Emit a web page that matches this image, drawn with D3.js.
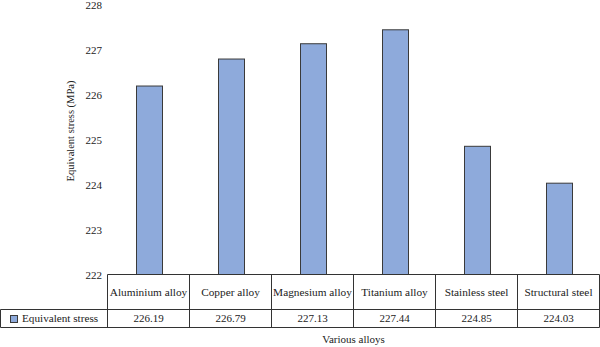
<!DOCTYPE html>
<html><head><meta charset="utf-8">
<script src="https://cdn.jsdelivr.net/npm/d3@7"></script>
<style>body{margin:0;background:#fff}svg{display:block}text{font-family:"Liberation Serif","Times New Roman",serif;fill:#222}</style>
</head><body><svg id="c" width="600" height="347"></svg>
<script>
const categories = ["Aluminium alloy","Copper alloy","Magnesium alloy","Titanium alloy","Stainless steel","Structural steel"];
const values = [226.19,226.79,227.13,227.44,224.85,224.03];
const valueLabels = ["226.19","226.79","227.13","227.44","224.85","224.03"];
const yTicks = [222,223,224,225,226,227,228];
const seriesName = "Equivalent stress";

(function(){
const svg = d3.select("#c");
const pL = 107.5, pR = 599.5, pT = 4.6, pB = 274.5;
const row1 = 309.5, row2 = 327.5;
const x = d3.scaleBand().domain(categories).range([pL, pR]).paddingInner(0).paddingOuter(0);
const y = d3.scaleLinear().domain([222,228]).range([pB, pT]);

svg.append("g").selectAll("text").data(yTicks).join("text")
  .attr("x", 102).attr("y", d => y(d) + 0.5).attr("dy","0.35em")
  .attr("text-anchor","end").attr("font-size",11).text(d => d);

svg.append("text").attr("transform",`translate(74,131) rotate(-90)`)
  .attr("text-anchor","middle").attr("font-size",10.5).text("Equivalent stress (MPa)");

const bw = 26;
svg.append("g").selectAll("rect").data(values).join("rect")
  .attr("x", (d,i) => Math.round(x(categories[i]) + x.bandwidth()/2 - bw/2) + 0.5)
  .attr("y", d => y(d))
  .attr("width", bw).attr("height", d => pB - y(d))
  .attr("fill","#8eaadb").attr("stroke","#3a3a3a").attr("stroke-width",1);

const g = svg.append("g").attr("stroke","#333").attr("stroke-width",1).attr("fill","none");
g.append("line").attr("x1",pL).attr("x2",pR).attr("y1",pB).attr("y2",pB);
g.append("line").attr("x1",0.5).attr("x2",pR).attr("y1",row1).attr("y2",row1);
g.append("line").attr("x1",0.5).attr("x2",pR).attr("y1",row2).attr("y2",row2);
g.append("line").attr("x1",0.5).attr("x2",0.5).attr("y1",row1).attr("y2",row2);
const bounds = categories.map(c => Math.round(x(c)-0.5)+0.5).concat([pR]);
g.selectAll("line.v").data(bounds).join("line").attr("class","v")
  .attr("x1", d => d).attr("x2", d => d)
  .attr("y1", pB).attr("y2", row2);

svg.append("g").selectAll("text").data(categories).join("text")
  .attr("x", d => x(d) + x.bandwidth()/2).attr("y", (pB+row1)/2).attr("dy","0.35em")
  .attr("text-anchor","middle").attr("font-size",11.3).text(d => d);
svg.append("g").selectAll("text").data(valueLabels).join("text")
  .attr("x", (d,i) => x(categories[i]) + x.bandwidth()/2).attr("y", (row1+row2)/2).attr("dy","0.35em")
  .attr("text-anchor","middle").attr("font-size",11).text(d => d);

svg.append("rect").attr("x",10.5).attr("y",315.5).attr("width",7).attr("height",7)
  .attr("fill","#8eaadb").attr("stroke","#3a3a3a");
svg.append("text").attr("x",22).attr("y",(row1+row2)/2).attr("dy","0.35em").attr("font-size",11.2).text(seriesName);

svg.append("text").attr("x",(pL+pR)/2).attr("y",339).attr("dy","0.35em")
  .attr("text-anchor","middle").attr("font-size",11).text("Various alloys");
})();
</script></body></html>
